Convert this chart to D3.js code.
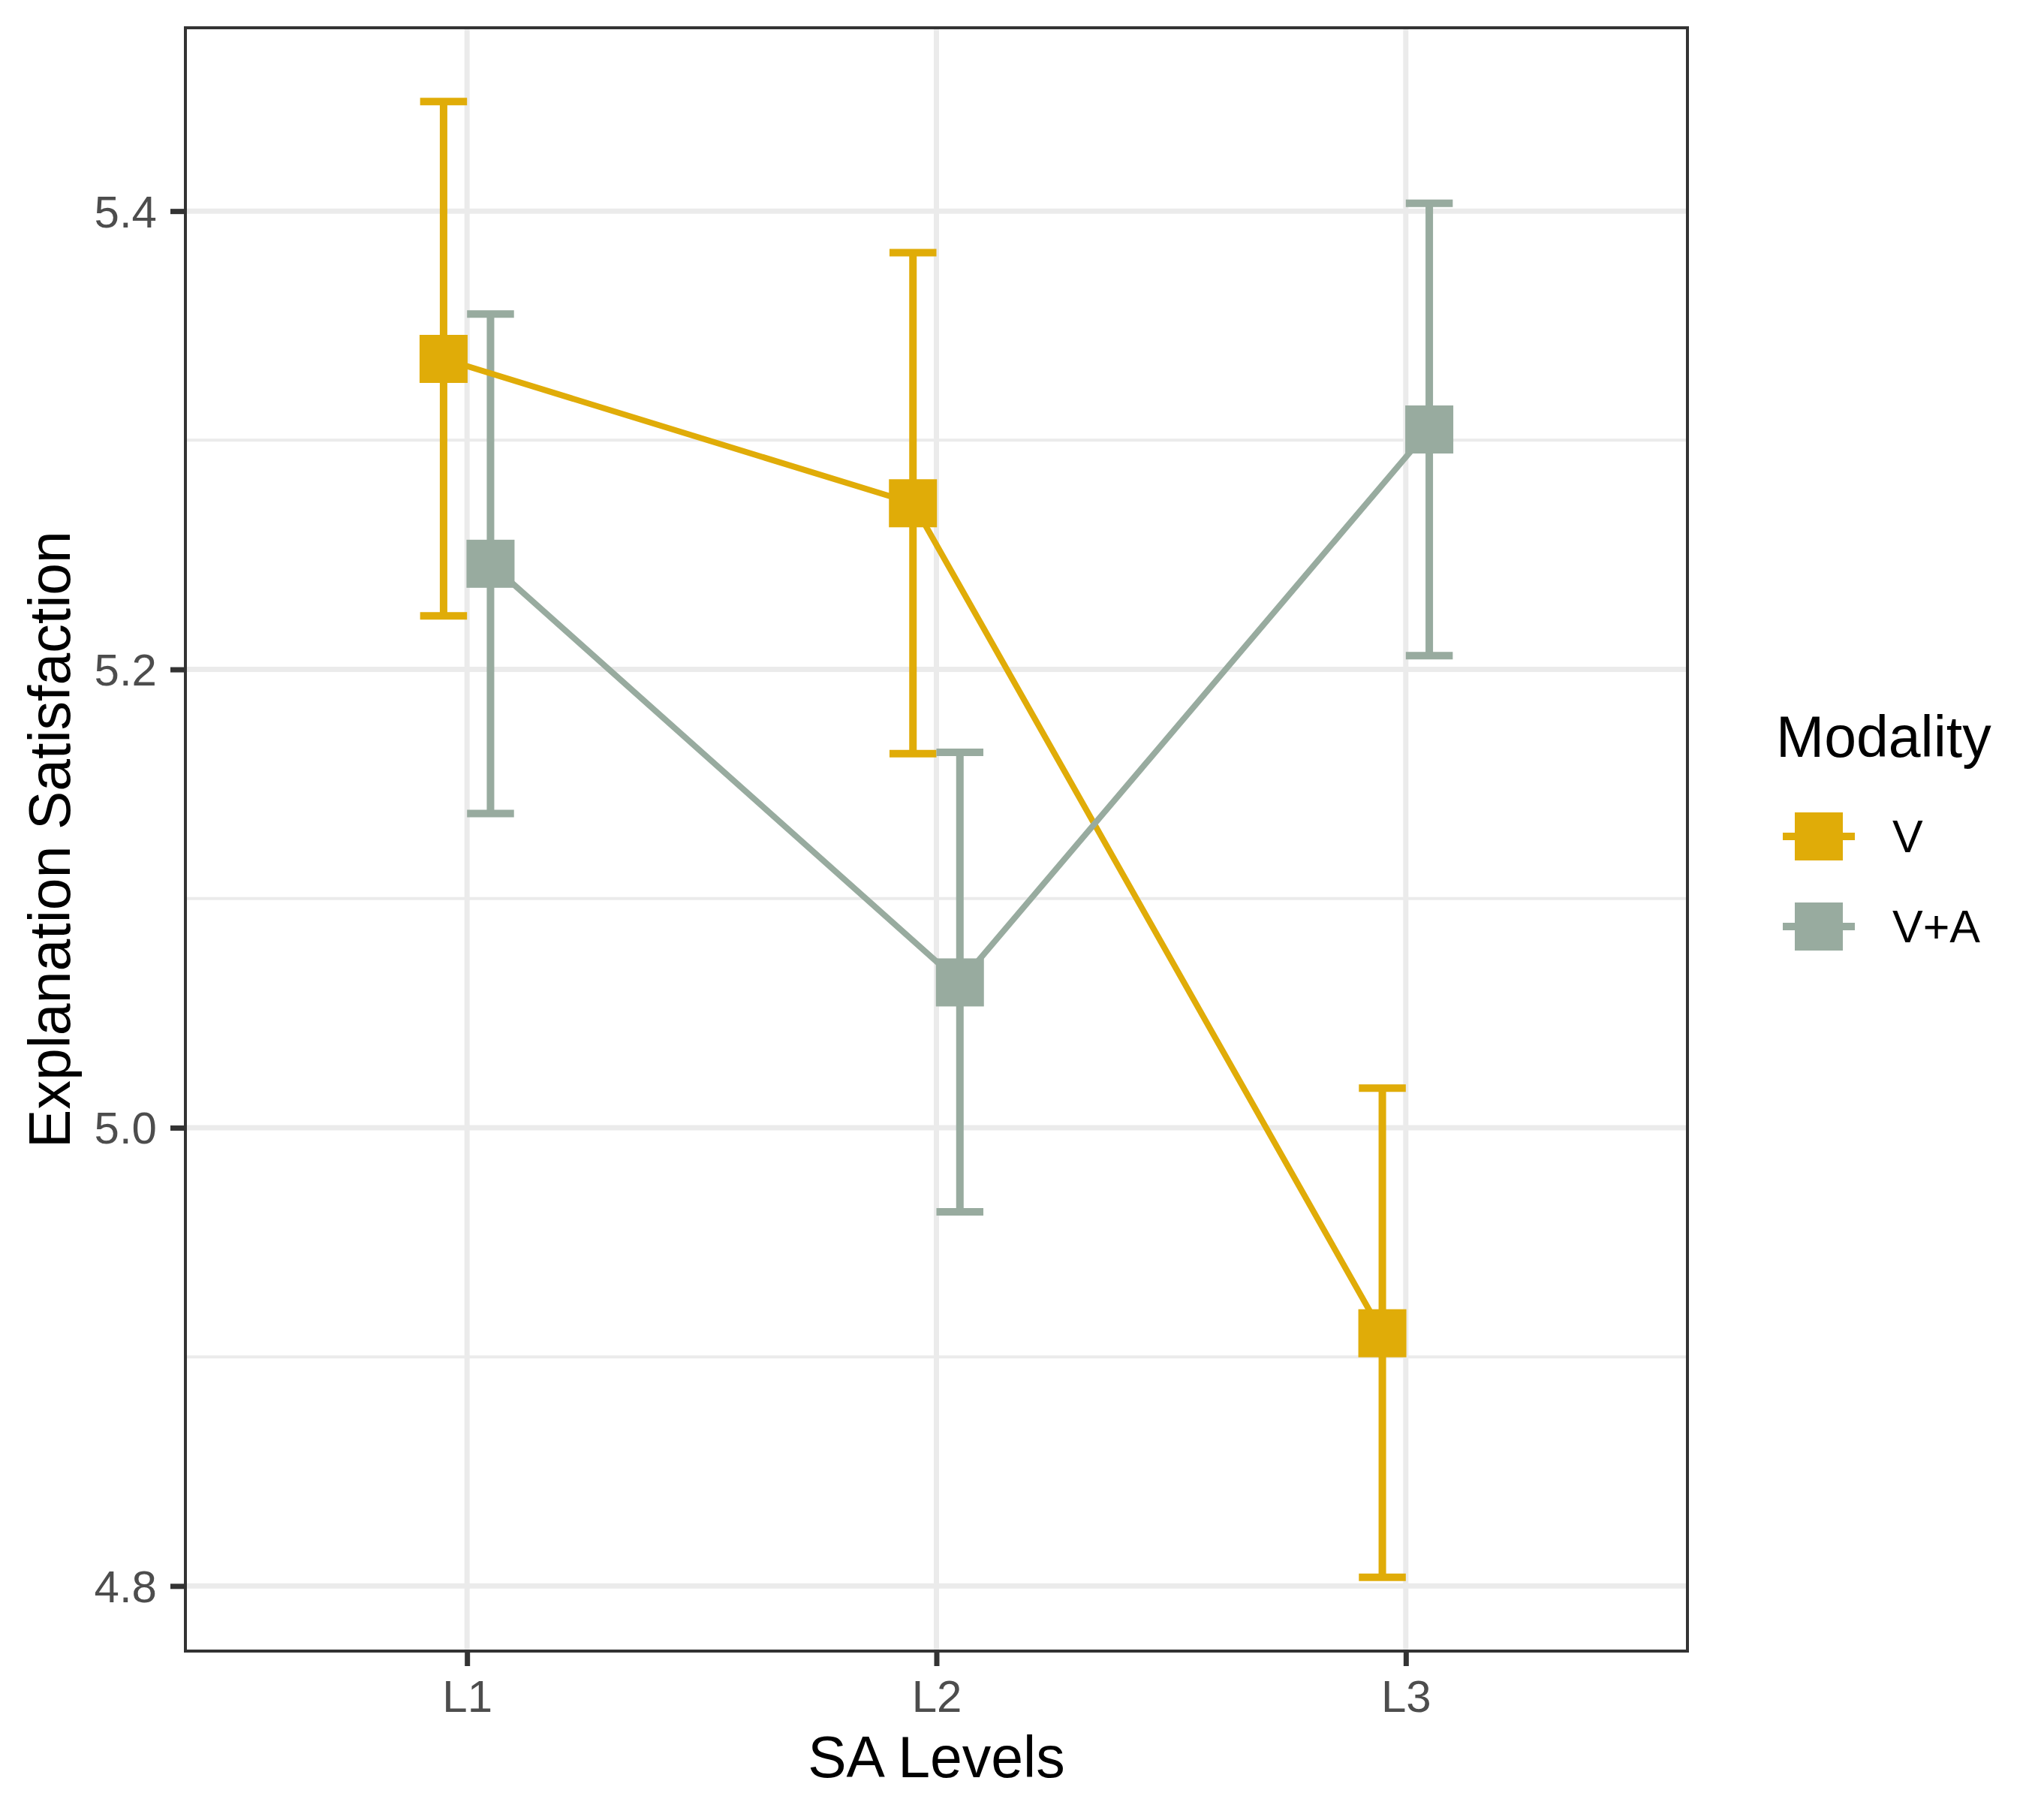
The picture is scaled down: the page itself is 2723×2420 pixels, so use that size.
<!DOCTYPE html>
<html>
<head>
<meta charset="utf-8">
<script src="https://cdn.jsdelivr.net/npm/d3@7"></script>
<style>
  html, body { margin: 0; padding: 0; background: #fff; }
  svg { display: block; font-family: "Liberation Sans", Arial, Helvetica, sans-serif; }
</style>
</head>
<body>
<svg id="chart" width="2723" height="2420"></svg>
<script>
// ---- data ----
const levels = ["L1", "L2", "L3"];
const modalities = ["V", "V+A"];
const meanV = [5.3355, 5.2725, 4.9103];
const lowerV = [5.2234, 5.1632, 4.8038];
const upperV = [5.4478, 5.3819, 5.0173];
const meanVA = [5.2461, 5.0634, 5.3047];
const lowerVA = [5.1371, 4.9633, 5.2060];
const upperVA = [5.3551, 5.1638, 5.4034];
const yMajorTicks = [4.8, 5.0, 5.2, 5.4];
const yMinorTicks = [4.9, 5.1, 5.3];
const xTitle = "SA Levels";
const yTitle = "Explanation Satisfaction";
const legendTitle = "Modality";

const colors = { "V": "#E0AC08", "V+A": "#98AB9F" };

const series = [
  { name: "V", mean: meanV, lower: lowerV, upper: upperV },
  { name: "V+A", mean: meanVA, lower: lowerVA, upper: upperVA }
];

// ---- layout ----
const P = { left: 247, right: 2248, top: 37, bottom: 2199 };
const svg = d3.select("#chart");

const x = d3.scalePoint().domain(levels).range([P.left, P.right]).padding(0.6);
const step = x.step();
const dodgeOff = { "V": -0.05 * step, "V+A": 0.05 * step };
const capHalf = 0.05 * step;

const allVals = lowerV.concat(upperV, lowerVA, upperVA);
const ymin = d3.min(allVals), ymax = d3.max(allVals);
const ex = (ymax - ymin) * 0.05;
const y = d3.scaleLinear().domain([ymin - ex, ymax + ex]).range([P.bottom, P.top]);

// panel background
svg.append("rect").attr("x", P.left).attr("y", P.top)
  .attr("width", P.right - P.left).attr("height", P.bottom - P.top).attr("fill", "#fff");

const grid = svg.append("g");
// minor grid
grid.selectAll("line.minor").data(yMinorTicks).enter().append("line")
  .attr("x1", P.left).attr("x2", P.right)
  .attr("y1", d => y(d)).attr("y2", d => y(d))
  .attr("stroke", "#EBEBEB").attr("stroke-width", 4);
// major grid
grid.selectAll("line.majory").data(yMajorTicks).enter().append("line")
  .attr("x1", P.left).attr("x2", P.right)
  .attr("y1", d => y(d)).attr("y2", d => y(d))
  .attr("stroke", "#EBEBEB").attr("stroke-width", 7);
grid.selectAll("line.majorx").data(levels).enter().append("line")
  .attr("y1", P.top).attr("y2", P.bottom)
  .attr("x1", d => x(d)).attr("x2", d => x(d))
  .attr("stroke", "#EBEBEB").attr("stroke-width", 7);

// errorbars
series.forEach(s => {
  const g = svg.append("g").attr("stroke", colors[s.name]).attr("stroke-width", 10).attr("fill", "none");
  levels.forEach((lv, i) => {
    const cx = x(lv) + dodgeOff[s.name];
    const path = d3.path();
    path.moveTo(cx - capHalf, y(s.upper[i])); path.lineTo(cx + capHalf, y(s.upper[i]));
    path.moveTo(cx, y(s.upper[i])); path.lineTo(cx, y(s.lower[i]));
    path.moveTo(cx - capHalf, y(s.lower[i])); path.lineTo(cx + capHalf, y(s.lower[i]));
    g.append("path").attr("d", path.toString());
  });
});

// lines
series.forEach(s => {
  const line = d3.line().x((d, i) => x(levels[i]) + dodgeOff[s.name]).y(d => y(d));
  svg.append("path").datum(s.mean).attr("d", line)
    .attr("fill", "none").attr("stroke", colors[s.name]).attr("stroke-width", 8);
});

// points
const sq = 64;
series.forEach(s => {
  svg.append("g").selectAll("rect").data(s.mean).enter().append("rect")
    .attr("x", (d, i) => x(levels[i]) + dodgeOff[s.name] - sq / 2)
    .attr("y", d => y(d) - sq / 2)
    .attr("width", sq).attr("height", sq)
    .attr("fill", colors[s.name]);
});

// panel border
svg.append("rect").attr("x", P.left).attr("y", P.top)
  .attr("width", P.right - P.left).attr("height", P.bottom - P.top)
  .attr("fill", "none").attr("stroke", "#333333").attr("stroke-width", 4);

// axes
const yAxis = d3.axisLeft(y).tickValues(yMajorTicks).tickFormat(d3.format(".1f")).tickSize(20).tickPadding(18);
const gy = svg.append("g").attr("transform", `translate(${P.left},0)`).call(yAxis);
gy.select(".domain").remove();
gy.selectAll(".tick line").attr("stroke", "#333333").attr("stroke-width", 7);
gy.selectAll(".tick text").attr("fill", "#4D4D4D").attr("font-size", 60)
  .attr("font-family", "Liberation Sans, Arial, sans-serif").attr("dy", "0.35em");

const xAxis = d3.axisBottom(x).tickSize(20).tickPadding(18);
const gx = svg.append("g").attr("transform", `translate(0,${P.bottom})`).call(xAxis);
gx.select(".domain").remove();
gx.selectAll(".tick line").attr("stroke", "#333333").attr("stroke-width", 7);
gx.selectAll(".tick text").attr("fill", "#4D4D4D").attr("font-size", 60)
  .attr("font-family", "Liberation Sans, Arial, sans-serif").attr("dy", null)
  .attr("y", 2280 - P.bottom);

// axis titles
svg.append("text").attr("x", (P.left + P.right) / 2).attr("y", 2367)
  .attr("text-anchor", "middle").attr("font-size", 77).attr("fill", "#000").text(xTitle);
svg.append("text")
  .attr("transform", `translate(93,${(P.top + P.bottom) / 2}) rotate(-90)`)
  .attr("text-anchor", "middle").attr("font-size", 77).attr("fill", "#000").text(yTitle);

// legend
const lg = svg.append("g");
lg.append("text").attr("x", 2366).attr("y", 1008).attr("font-size", 77).attr("fill", "#000").text(legendTitle);
modalities.forEach((m, i) => {
  const cy = 1114 + i * 120;
  const kx = 2363;
  lg.append("line").attr("x1", kx + 12).attr("x2", kx + 108).attr("y1", cy).attr("y2", cy)
    .attr("stroke", colors[m]).attr("stroke-width", 10);
  lg.append("rect").attr("x", kx + 60 - sq / 2).attr("y", cy - sq / 2)
    .attr("width", sq).attr("height", sq).attr("fill", colors[m]);
  lg.append("text").attr("x", 2521).attr("y", cy + 21).attr("font-size", 61).attr("fill", "#000").text(m);
});
</script>
</body>
</html>
